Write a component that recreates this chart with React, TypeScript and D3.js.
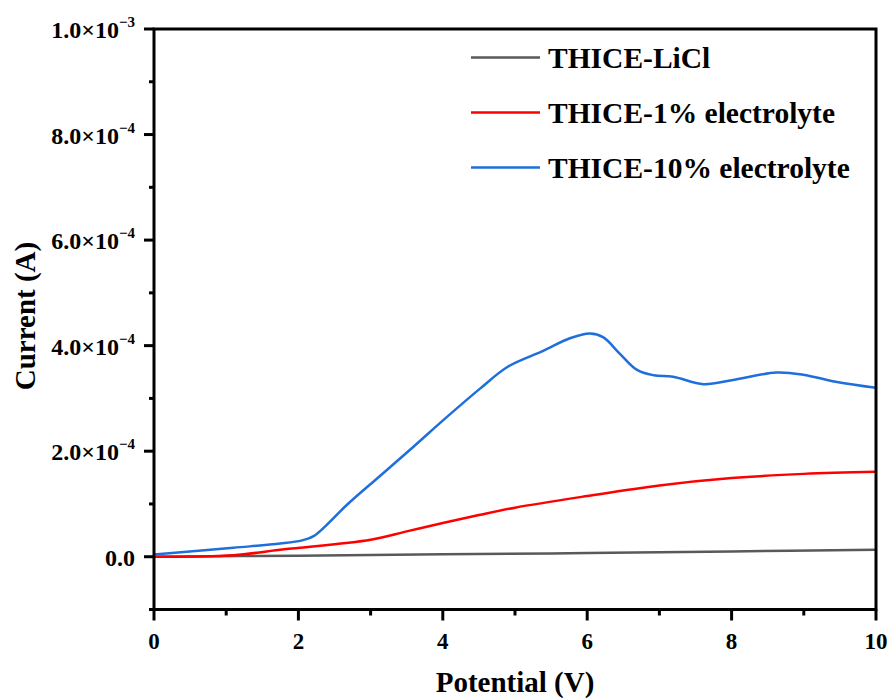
import React from "react";
import * as d3 from "d3";

// potential (V), current (A)
const licl = [
  [0, 0], [2, 2e-6], [4, 4.5e-6], [6, 7e-6], [8, 1e-5], [10, 1.3e-5],
];
const elec1 = [
  [0, 0], [1.1, 3e-6], [1.8, 1.4e-5], [3, 3.2e-5], [3.5, 4.8e-5],
  [4, 6.4e-5], [4.5, 7.9e-5], [5, 9.3e-5], [6, 1.15e-4], [7, 1.35e-4],
  [8, 1.49e-4], [9, 1.57e-4], [10, 1.61e-4],
];
const elec10 = [
  [0, 4e-6], [1.1, 1.7e-5], [1.75, 2.5e-5], [2.05, 3.1e-5], [2.21, 3.9e-5],
  [2.39, 6.0e-5], [2.67, 9.8e-5], [3.13, 1.53e-4], [3.59, 2.08e-4], [4.05, 2.64e-4],
  [4.52, 3.19e-4], [4.9, 3.6e-4], [5.39, 3.9e-4], [5.76, 4.14e-4],
  [6.04, 4.23e-4], [6.22, 4.16e-4], [6.45, 3.85e-4], [6.69, 3.54e-4],
  [6.92, 3.44e-4], [7.19, 3.41e-4], [7.61, 3.27e-4], [8.02, 3.35e-4],
  [8.62, 3.49e-4], [8.99, 3.45e-4], [9.46, 3.31e-4], [10, 3.2e-4],
];

const seriesNames = ["THICE-LiCl", "THICE-1% electrolyte", "THICE-10% electrolyte"];
const seriesColors = ["#595959", "#ff0000", "#1e6fdc"];
const xTicks = [0, 2, 4, 6, 8, 10];
const xMinor = [1, 3, 5, 7, 9];
const yTicks = [0, 2e-4, 4e-4, 6e-4, 8e-4, 1e-3];
const yMinor = [-1e-4, 1e-4, 3e-4, 5e-4, 7e-4, 9e-4];
const yTickLabels = [
  ["0.0", ""],
  ["2.0×10", "−4"],
  ["4.0×10", "−4"],
  ["6.0×10", "−4"],
  ["8.0×10", "−4"],
  ["1.0×10", "−3"],
];

export default function App() {
  const width = 892;
  const height = 700;
  const left = 154, right = 876, top = 29, bottom = 609.5;

  const x = d3.scaleLinear().domain([0, 10]).range([left, right]);
  const y = d3.scaleLinear().domain([-1e-4, 1e-3]).range([bottom, top]);

  const line = d3
    .line<number[]>()
    .x(d => x(d[0]))
    .y(d => y(d[1]))
    .curve(d3.curveCatmullRom.alpha(0.5));

  const data = [licl, elec1, elec10];

  return (
    <svg
      width={width}
      height={height}
      style={{
        position: "absolute",
        left: 0,
        top: 0,
        background: "#fff",
        fontFamily: "Liberation Serif",
        fontWeight: 700,
      }}
    >
      <defs>
        <clipPath id="plot">
          <rect x={left} y={top} width={right - left} height={bottom - top} />
        </clipPath>
      </defs>

      <g clipPath="url(#plot)">
        {data.map((d, i) => (
          <path key={i} d={line(d) || ""} fill="none" stroke={seriesColors[i]} strokeWidth={2.5} />
        ))}
      </g>

      {/* frame */}
      <rect x={left} y={top} width={right - left} height={bottom - top} fill="none" stroke="#000" strokeWidth={3} />

      {/* x ticks */}
      {xTicks.map(t => (
        <g key={"x" + t}>
          <line x1={x(t)} x2={x(t)} y1={bottom} y2={bottom + 11} stroke="#000" strokeWidth={3} />
          <text x={x(t)} y={649} textAnchor="middle" fontSize={23}>{t}</text>
        </g>
      ))}
      {xMinor.map(t => (
        <line key={"xm" + t} x1={x(t)} x2={x(t)} y1={bottom} y2={bottom + 6} stroke="#000" strokeWidth={3} />
      ))}

      {/* y ticks */}
      {yTicks.map((t, i) => (
        <g key={"y" + t}>
          <line x1={left - 10} x2={left} y1={y(t)} y2={y(t)} stroke="#000" strokeWidth={3} />
          <text x={135} y={y(t) + 9} textAnchor="end" fontSize={24}>
            {yTickLabels[i][0]}
            {yTickLabels[i][1] && (
              <tspan fontSize={15} dy={-11}>{yTickLabels[i][1]}</tspan>
            )}
          </text>
        </g>
      ))}
      {yMinor.map(t => (
        <line key={"ym" + t} x1={left - 5} x2={left} y1={y(t)} y2={y(t)} stroke="#000" strokeWidth={3} />
      ))}

      {/* axis titles */}
      <text x={(left + right) / 2} y={692} textAnchor="middle" fontSize={29}>Potential (V)</text>
      <text transform={`translate(35, 316) rotate(-90)`} textAnchor="middle" fontSize={29}>
        Current (A)
      </text>

      {/* legend */}
      {seriesNames.map((n, i) => {
        const ly = 57.5 + i * 55;
        return (
          <g key={n}>
            <line x1={471} x2={540} y1={ly} y2={ly} stroke={seriesColors[i]} strokeWidth={2.5} />
            <text x={548} y={ly + 10} fontSize={29.5}>{n}</text>
          </g>
        );
      })}
    </svg>
  );
}
